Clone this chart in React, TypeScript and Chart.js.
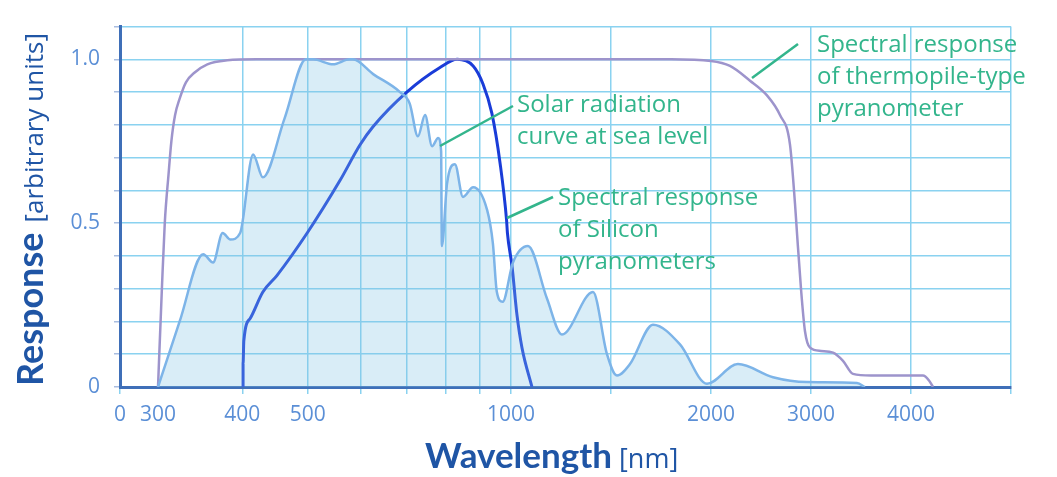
import React, { useEffect, useRef } from 'react';
import { Chart, registerables, LinearScale } from 'chart.js';

Chart.register(...registerables);

// ---------------- DATA ----------------
const X_TICKS = [0, 300, 400, 500, 600, 700, 800, 900, 1000, 1500, 2000, 3000, 4000, 5000];
const X_LABELLED = [0, 300, 400, 500, 1000, 2000, 3000, 4000];
const Y_LABELLED = [0, 0.5, 1.0];

const thermopileNm = [300, 304, 307, 311, 314, 318, 323, 330, 340, 355, 380, 420, 1000, 1800, 2000, 2190, 2390, 2560, 2690, 2790, 2840, 2860, 2900, 2940, 2990, 3100, 3220, 3320, 3420, 3600, 4120, 4180, 4220];
const thermopileVal = [0, 0.3, 0.5, 0.65, 0.75, 0.83, 0.88, 0.93, 0.96, 0.985, 0.997, 1.0, 1.0, 1.0, 0.995, 0.98, 0.935, 0.89, 0.83, 0.74, 0.56, 0.47, 0.3, 0.17, 0.12, 0.11, 0.105, 0.08, 0.04, 0.035, 0.035, 0.02, 0];

const siliconNm = [300, 323, 350, 362, 374, 384, 397, 415, 429, 462, 497, 509, 545, 577, 583, 625, 685, 708, 728, 746, 764, 780, 788, 790, 804, 826, 849, 879, 922, 940, 953, 972, 1010, 1085, 1180, 1255, 1410, 1480, 1530, 1595, 1710, 1845, 1980, 2270, 2620, 2960, 3460, 3540];
const siliconVal = [0, 0.2, 0.405, 0.38, 0.47, 0.45, 0.47, 0.71, 0.64, 0.82, 1.0, 1.0, 0.985, 1.0, 1.0, 0.955, 0.9, 0.865, 0.765, 0.83, 0.735, 0.76, 0.72, 0.43, 0.62, 0.68, 0.58, 0.61, 0.54, 0.44, 0.29, 0.26, 0.38, 0.43, 0.27, 0.16, 0.29, 0.1, 0.035, 0.07, 0.19, 0.13, 0.01, 0.07, 0.03, 0.015, 0.012, 0];

const solarNm = [401, 401, 402, 411, 429, 450, 499, 558, 598, 625, 701, 785, 832, 879, 909, 937, 964, 985, 988, 1005, 1030, 1055, 1105];
const solarVal = [0, 0.07, 0.14, 0.21, 0.29, 0.34, 0.47, 0.63, 0.74, 0.795, 0.9, 0.975, 1.0, 0.98, 0.925, 0.835, 0.68, 0.51, 0.47, 0.37, 0.22, 0.12, 0];

const Y_TITLE_MAIN = 'Response';
const Y_TITLE_SUB = '[arbitrary units]';
const X_TITLE_MAIN = 'Wavelength';
const X_TITLE_SUB = '[nm]';

const NOTE_SOLAR = ['Solar radiation', 'curve at sea level'];
const NOTE_SILICON = ['Spectral response', 'of Silicon', 'pyranometers'];
const NOTE_THERMO = ['Spectral response', 'of thermopile-type', 'pyranometer'];

// ---------------- STYLE ----------------
const GRID = '#8ad2f0';
const AXIS = '#3f6fb8';
const TICK_TXT = '#5b8fd6';
const TITLE = '#1f55a5';
const GREEN = '#33b58c';
const PURPLE = '#9d94cc';
const SILICON = '#7db4e8';
const SOLAR = '#1a3cd8';
const FONT = 'Lato, "Noto Sans", sans-serif';
const FONT2 = '"Open Sans", "Noto Sans", sans-serif';

// piecewise wavelength axis (log 300-1000, linear beyond)
const LOG_SCALE = 675;
const U300 = 38;
function fwd(v: number): number {
  const u1000 = U300 + LOG_SCALE * Math.log10(1000 / 300);
  const u2000 = u1000 + 200;
  if (v <= 300) return (U300 * v) / 300;
  if (v <= 1000) return U300 + LOG_SCALE * Math.log10(v / 300);
  if (v <= 2000) return u1000 + 0.2 * (v - 1000);
  return u2000 + 0.1 * (v - 2000);
}
function inv(u: number): number {
  const u1000 = U300 + LOG_SCALE * Math.log10(1000 / 300);
  const u2000 = u1000 + 200;
  if (u <= U300) return (u * 300) / U300;
  if (u <= u1000) return 300 * Math.pow(10, (u - U300) / LOG_SCALE);
  if (u <= u2000) return 1000 + (u - u1000) / 0.2;
  return 2000 + (u - u2000) / 0.1;
}
const U_MAX = fwd(5000);

class PiecewiseScale extends LinearScale {
  static id = 'piecewise';
  static defaults = LinearScale.defaults;
  determineDataLimits() {
    this.min = 0;
    this.max = 5000;
  }
  buildTicks() {
    return X_TICKS.map((value) => ({ value }));
  }
  getPixelForValue(value: number) {
    return this.getPixelForDecimal(fwd(value) / U_MAX);
  }
  getValueForPixel(pixel: number) {
    return inv(this.getDecimalForPixel(pixel) * U_MAX);
  }
}
Chart.register(PiecewiseScale as any);

function zip(xs: number[], ys: number[]) {
  return xs.map((x, i) => ({ x, y: ys[i] }));
}

const textPlugin = {
  id: 'customText',
  afterDraw(chart: any) {
    const ctx = chart.ctx as CanvasRenderingContext2D;
    ctx.save();
    // Y title
    ctx.translate(43, 386);
    ctx.rotate(-Math.PI / 2);
    ctx.fillStyle = TITLE;
    ctx.textBaseline = 'alphabetic';
    ctx.textAlign = 'left';
    ctx.font = `700 36px ${FONT}`;
    ctx.fillText(Y_TITLE_MAIN, 0, 0);
    const w1 = ctx.measureText(Y_TITLE_MAIN).width;
    ctx.font = `500 26px ${FONT2}`;
    ctx.fillText(Y_TITLE_SUB, w1 + 10, 0);
    ctx.restore();

    // X title
    ctx.save();
    ctx.fillStyle = TITLE;
    ctx.textBaseline = 'alphabetic';
    ctx.textAlign = 'left';
    ctx.font = `700 35px ${FONT}`;
    ctx.fillText(X_TITLE_MAIN, 425, 468);
    ctx.font = `500 27px ${FONT2}`;
    ctx.fillText(X_TITLE_SUB, 619, 468);
    ctx.restore();

    // annotations
    const notes = [
      { lines: NOTE_SOLAR, x: 517, y: 112, from: [513, 106], to: [440, 146] },
      { lines: NOTE_SILICON, x: 558, y: 205, from: [553, 197], to: [507, 218] },
      { lines: NOTE_THERMO, x: 817, y: 52, from: [798, 44], to: [752, 78] },
    ];
    ctx.save();
    ctx.strokeStyle = GREEN;
    ctx.lineWidth = 2.5;
    ctx.fillStyle = GREEN;
    ctx.font = `400 24px ${FONT2}`;
    ctx.textBaseline = 'alphabetic';
    ctx.textAlign = 'left';
    for (const n of notes) {
      ctx.beginPath();
      ctx.moveTo(n.from[0], n.from[1]);
      ctx.lineTo(n.to[0], n.to[1]);
      ctx.stroke();
      n.lines.forEach((t, i) => ctx.fillText(t, n.x, n.y + i * 32));
    }
    ctx.restore();
  },
};

export default function App() {
  const ref = useRef<HTMLCanvasElement | null>(null);
  useEffect(() => {
    if (!ref.current) return;
    const chart = new Chart(ref.current, {
      type: 'line',
      data: {
        datasets: [
          {
            label: 'Silicon',
            data: zip(siliconNm, siliconVal),
            borderColor: SILICON,
            backgroundColor: 'rgba(130,195,228,0.3)',
            fill: 'origin',
            borderWidth: 2.5,
            pointRadius: 0,
            cubicInterpolationMode: 'monotone',
          },
          {
            label: 'Thermopile',
            data: zip(thermopileNm, thermopileVal),
            borderColor: PURPLE,
            fill: false,
            borderWidth: 2.5,
            pointRadius: 0,
            cubicInterpolationMode: 'monotone',
          },
          {
            label: 'Solar',
            data: zip(solarNm, solarVal),
            borderColor: SOLAR,
            fill: false,
            borderWidth: 3,
            pointRadius: 0,
            cubicInterpolationMode: 'monotone',
          },
        ],
      },
      options: {
        animation: false,
        responsive: false,
        events: [],
        layout: { padding: { left: 0, top: 18, right: 46, bottom: 0 } },
        plugins: { legend: { display: false }, tooltip: { enabled: false }, title: { display: false } },
        scales: {
          x: {
            type: 'piecewise' as any,
            min: 0,
            max: 5000,
            afterFit: (s: any) => {
              s.height = 90;
            },
            border: { color: AXIS, width: 3 },
            grid: {
              color: (c: any) => (c.tick && c.tick.value === 300 ? 'rgba(0,0,0,0)' : GRID),
              tickColor: (c: any) => (c.tick && c.tick.value === 300 ? 'rgba(0,0,0,0)' : GRID),
              lineWidth: 1.5,
              tickLength: 7,
            },
            ticks: {
              autoSkip: false,
              maxRotation: 0,
              padding: 8,
              color: TICK_TXT,
              font: { family: FONT2, size: 21 },
              callback: (v: any) => (X_LABELLED.includes(Number(v)) ? String(v) : ''),
            },
          } as any,
          y: {
            type: 'linear',
            min: 0,
            max: 1.1,
            afterFit: (s: any) => {
              s.width = 120;
            },
            border: { color: AXIS, width: 3 },
            grid: { color: GRID, tickColor: '#a9bde0', lineWidth: 1.5, tickLength: 6 },
            ticks: {
              stepSize: 0.1,
              padding: 14,
              color: TICK_TXT,
              font: { family: FONT2, size: 21 },
              callback: (v: any) => {
                const n = Number(v);
                if (Math.abs(n) < 1e-6) return '0';
                for (const l of Y_LABELLED) if (Math.abs(n - l) < 1e-6) return l.toFixed(1);
                return '';
              },
            },
          },
        },
      } as any,
      plugins: [textPlugin],
    });
    return () => chart.destroy();
  }, []);
  return (
    <div style={{ position: 'fixed', left: 0, top: 0, width: 1057, height: 477, background: '#fff' }}>
      <canvas ref={ref} width={1057} height={477} />
    </div>
  );
}
